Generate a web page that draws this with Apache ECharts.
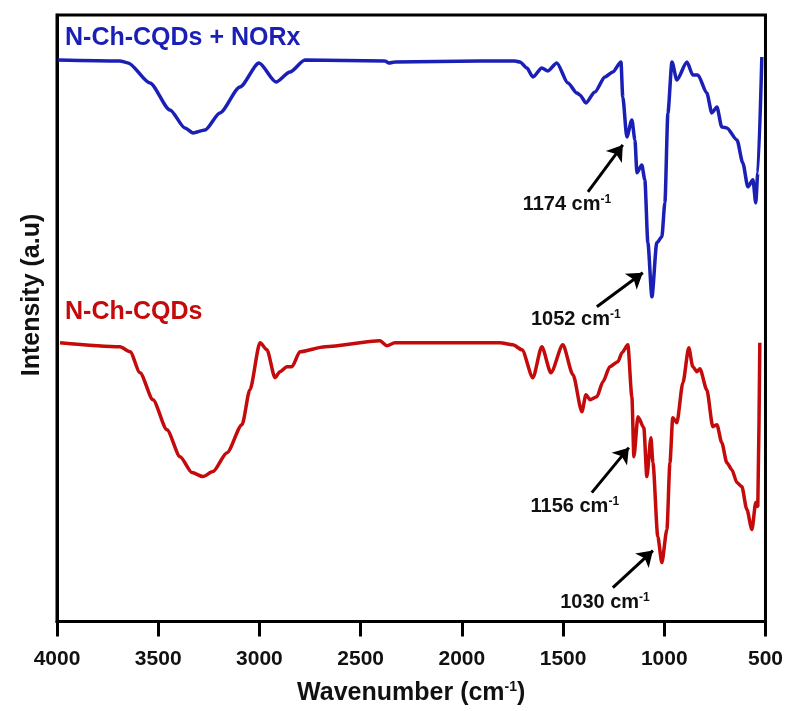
<!DOCTYPE html>
<html>
<head>
<meta charset="utf-8">
<script src="https://cdn.jsdelivr.net/npm/echarts@6/dist/echarts.min.js"></script>
<style>
  html, body { margin: 0; padding: 0; background: #fff; }
  #ftir { width: 786px; height: 711px; }
</style>
</head>
<body>
<div id="ftir"></div>
<script>
// wavenumber (cm-1) and intensity (a.u.)
var blueWn = [3995, 3689, 3649, 3541, 3442, 3368, 3328, 3269, 3195, 3096, 3002, 2918, 2849, 2775,
  2380, 2360, 2331, 1911, 1738, 1713, 1679, 1649, 1605, 1575, 1531, 1476, 1432, 1417, 1387, 1343,
  1293, 1254, 1214, 1205, 1185, 1160, 1145, 1135, 1111, 1096, 1081, 1061, 1037, 1012, 997, 982,
  962, 938, 888, 859, 834, 790, 765, 740, 716, 691, 641, 612, 587, 562, 548, 538, 518];
var blueVal = [112.4, 112.2, 111.8, 107.8, 102.4, 98.8, 97.8, 98.4, 101.8, 107, 111.8, 108, 110, 112.4,
  112.2, 111.8, 112, 112.2, 112.2, 112, 110.8, 109, 110.8, 110.2, 111.8, 107.8, 105.8, 105.4, 103.8, 106,
  109, 110, 112, 105, 97, 100.4, 96.4, 89.8, 91.4, 88.4, 75.8, 65, 75.8, 77, 83.8, 101.8,
  112, 108.4, 112, 109.4, 109.4, 105.8, 101.8, 103, 99, 98.8, 96.4, 91.8, 87, 88.4, 83.8, 89.8, 113];

var redWn = [3985, 3689, 3639, 3590, 3526, 3457, 3392, 3333, 3279, 3230, 3160, 3086, 3047, 2997,
  2963, 2923, 2899, 2864, 2839, 2800, 2676, 2405, 2370, 2331, 1812, 1748, 1703, 1649, 1605, 1560,
  1501, 1451, 1407, 1387, 1367, 1333, 1303, 1269, 1229, 1209, 1180, 1160, 1150, 1130, 1101, 1086,
  1066, 1056, 1032, 1012, 987, 972, 958, 938, 908, 879, 859, 839, 824, 790, 760, 740, 716, 691,
  666, 641, 617, 592, 567, 548, 538, 528];
var redVal = [55.8, 55, 54, 49.8, 44.4, 38.4, 33, 29.8, 29, 30, 33.8, 39.4, 46.4, 55.8,
  54.4, 48.8, 50, 51, 51, 54, 55, 56.2, 55.2, 55.8, 55.8, 55.4, 54.4, 48.8, 55, 49.8,
  55.4, 49.4, 42, 45.4, 44.4, 45, 48, 51, 52, 53.8, 55.4, 45, 33, 41, 38.8, 29,
  36.8, 31.8, 17, 11.8, 18.4, 31.8, 40.8, 39.8, 47.8, 54.8, 51, 50, 50.6, 46.4, 39, 39.4, 35.8, 31.8,
  30.4, 27.8, 27, 22.4, 18.4, 23.8, 23, 55.8];

// peak annotations: text, label anchor, arrow tail and arrow head
var peakText = ['1174', '1052', '1156', '1030'];
var peakLabelWn = [1481, 1437, 1442, 1293];
var peakLabelVal = [83.4, 60.4, 23, 3.8];
var arrowFromWn = [1377, 1333, 1358, 1254];
var arrowFromVal = [86, 63, 25.8, 6.8];
var arrowToWn = [1205, 1106, 1175, 1056];
var arrowToVal = [95.4, 69.8, 34.8, 14.2];

var blueColor = '#1a1fb5';
var redColor = '#c40a0a';
var fontFam = '"Liberation Sans", Arial, sans-serif';

function pairs(xs, ys) {
  var out = [];
  for (var i = 0; i < xs.length; i++) out.push([xs[i], ys[i]]);
  return out;
}

var arrowLines = [];
var peakPoints = [];
for (var i = 0; i < peakText.length; i++) {
  arrowLines.push([{ coord: [arrowFromWn[i], arrowFromVal[i]] }, { coord: [arrowToWn[i], arrowToVal[i]] }]);
  peakPoints.push({ coord: [peakLabelWn[i], peakLabelVal[i]], value: peakText[i] });
}

var chart = echarts.init(document.getElementById('ftir'));
chart.setOption({
  backgroundColor: '#ffffff',
  animation: false,
  grid: { left: 57, right: 20, top: 15, bottom: 89, show: true, borderColor: '#000', borderWidth: 3 },
  xAxis: {
    type: 'value',
    inverse: true,
    min: 500,
    max: 4000,
    interval: 500,
    name: '{t|Wavenumber (cm}{s|-1}{t|)}',
    nameLocation: 'middle',
    nameGap: 59,
    nameTextStyle: {
      rich: {
        t: { fontFamily: fontFam, fontWeight: 'bold', fontSize: 25, color: '#111' },
        s: { fontFamily: fontFam, fontWeight: 'bold', fontSize: 14, color: '#111', verticalAlign: 'top', padding: [0, 0, 12, 0] }
      }
    },
    axisLine: { lineStyle: { color: '#000', width: 3 } },
    axisTick: { inside: false, length: 15, lineStyle: { color: '#000', width: 3 } },
    axisLabel: {
      margin: 27, fontFamily: fontFam, fontWeight: 'bold', fontSize: 21, color: '#111',
      formatter: function (v) { return String(v); }
    },
    splitLine: { show: false }
  },
  yAxis: {
    type: 'value',
    min: 0,
    max: 121.4,
    axisLine: { show: true, lineStyle: { color: '#000', width: 3 } },
    axisTick: { show: false },
    axisLabel: { show: false },
    splitLine: { show: false }
  },
  graphic: [
    {
      type: 'text', x: 32, y: 295, rotation: Math.PI / 2,
      style: { text: 'Intensity (a.u)', fill: '#111', font: 'bold 25px "Liberation Sans", Arial, sans-serif', textAlign: 'center', textVerticalAlign: 'middle' }
    },
    {
      type: 'text', x: 65, y: 38,
      style: { text: 'N-Ch-CQDs + NORx', fill: blueColor, font: 'bold 25px "Liberation Sans", Arial, sans-serif', textAlign: 'left', textVerticalAlign: 'middle' }
    },
    {
      type: 'text', x: 65, y: 312,
      style: { text: 'N-Ch-CQDs', fill: redColor, font: 'bold 25px "Liberation Sans", Arial, sans-serif', textAlign: 'left', textVerticalAlign: 'middle' }
    }
  ],
  series: [
    {
      name: 'N-Ch-CQDs + NORx',
      type: 'line',
      data: pairs(blueWn, blueVal),
      showSymbol: false,
      smooth: 0.25,
      smoothMonotone: 'x',
      lineStyle: { color: blueColor, width: 3.5 },
      itemStyle: { color: blueColor },
      markLine: {
        silent: true,
        symbol: ['none', 'arrow'],
        symbolSize: 15,
        label: { show: false },
        lineStyle: { color: '#000', width: 3, type: 'solid' },
        itemStyle: { color: '#000' },
        data: arrowLines
      },
      markPoint: {
        silent: true,
        symbol: 'circle',
        symbolSize: 0,
        label: {
          show: true,
          position: 'inside',
          formatter: function (p) { return '{a|' + p.value + ' cm}{s|-1}'; },
          rich: {
            a: { fontFamily: fontFam, fontWeight: 'bold', fontSize: 20, color: '#111' },
            s: { fontFamily: fontFam, fontWeight: 'bold', fontSize: 12, color: '#111', verticalAlign: 'top', padding: [0, 0, 10, 0] }
          }
        },
        data: peakPoints
      }
    },
    {
      name: 'N-Ch-CQDs',
      type: 'line',
      data: pairs(redWn, redVal),
      showSymbol: false,
      smooth: 0.25,
      smoothMonotone: 'x',
      lineStyle: { color: redColor, width: 3.5 },
      itemStyle: { color: redColor }
    }
  ]
});
</script>
</body>
</html>
